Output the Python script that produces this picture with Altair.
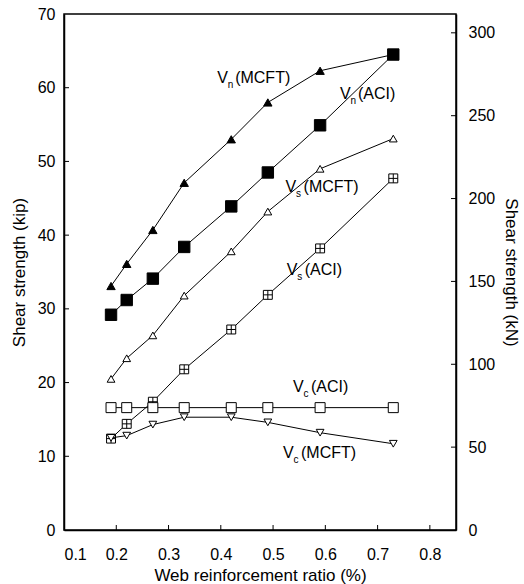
import altair as alt
import pandas as pd

# ---- data ----
ratio = [0.19, 0.22, 0.27, 0.33, 0.42, 0.49, 0.59, 0.73]
vn_mcft = [33.1, 36.1, 40.7, 47.1, 53.0, 58.0, 62.3, 64.5]
vn_aci = [29.2, 31.2, 34.1, 38.4, 43.9, 48.5, 54.9, 64.5]
vs_mcft = [20.5, 23.3, 26.4, 31.8, 37.8, 43.2, 49.0, 53.1]
vs_aci = [12.4, 14.4, 17.4, 21.8, 27.2, 31.9, 38.2, 47.7]
vc_aci = [16.6, 16.6, 16.6, 16.6, 16.6, 16.6, 16.6, 16.6]
vc_mcft = [12.5, 12.8, 14.3, 15.3, 15.3, 14.6, 13.2, 11.7]

KIP_TO_KN = 4.448

label_x = [0.393, 0.628, 0.524, 0.526, 0.538, 0.519]
label_y = [61.3, 59.2, 46.5, 35.3, 19.4, 10.4]
label_sub = ["n", "n", "s", "s", "c", "c"]
label_rest = ["(MCFT)", "(ACI)", "(MCFT)", "(ACI)", "(ACI)", "(MCFT)"]

x_ticks = [0.2, 0.3, 0.4, 0.5, 0.6, 0.7, 0.8]
kip_ticks = [10, 20, 30, 40, 50, 60]
kn_ticks = [50, 100, 150, 200, 250, 300]

W, H = 392, 516
FONT = "Liberation Sans"

xs = alt.Scale(domain=[0.1, 0.85], nice=False, zero=False)
ys = alt.Scale(domain=[0, 70], nice=False)
kns = alt.Scale(domain=[0, 70 * KIP_TO_KN], nice=False)

xaxis = alt.Axis(values=[0.1, 0.2, 0.3, 0.4, 0.5, 0.6, 0.7, 0.8], format=".1f",
                 ticks=False, labelPadding=16, title="Web reinforcement ratio (%)",
                 titlePadding=5, grid=False)
yaxis = alt.Axis(values=[0, 10, 20, 30, 40, 50, 60, 70], ticks=False, labelPadding=9,
                 title="Shear strength (kip)", titlePadding=9, grid=False)
kaxis = alt.Axis(orient="right", values=[0, 50, 100, 150, 200, 250, 300], ticks=False,
                 labelPadding=12, title="Shear strength (kN)", titlePadding=7, grid=False)

PLUSBOX = "M-1,-1L1,-1L1,1L-1,1Z M0,-1L0,1 M-1,0L1,0"

series = [
    ("Vn(MCFT)", vn_mcft, "triangle-up", "black", 70),
    ("Vn(ACI)", vn_aci, "square", "black", 130),
    ("Vs(MCFT)", vs_mcft, "triangle-up", "white", 60),
    ("Vs(ACI)", vs_aci, PLUSBOX, "white", 80),
    ("Vc(ACI)", vc_aci, "square", "white", 100),
    ("Vc(MCFT)", vc_mcft, "triangle-down", "white", 60),
]

rows = []
for name, vals, *_ in series:
    for r, v in zip(ratio, vals):
        rows.append({"series": name, "ratio": r, "kip": v})
df = pd.DataFrame(rows)


def X(field):
    return alt.X(field, scale=xs, axis=xaxis)


def Y(field):
    return alt.Y(field, scale=ys, axis=yaxis)


base = alt.Chart(df)
layers = []
for name, vals, shape, fill, size in series:
    sub = base.transform_filter(alt.datum.series == name)
    layers.append(sub.mark_line(color="black", strokeWidth=1)
                  .encode(x=X("ratio:Q"), y=Y("kip:Q")))
    layers.append(sub.mark_point(shape=shape, filled=False, fill=fill, fillOpacity=1,
                                 stroke="black", strokeWidth=1, size=size, opacity=1)
                  .encode(x=X("ratio:Q"), y=Y("kip:Q")))

lab = pd.DataFrame({"lx": label_x, "ly": label_y, "sub": label_sub, "rest": label_rest,
                    "v": ["V"] * 6})
lbase = alt.Chart(lab).encode(x=X("lx:Q"), y=Y("ly:Q"))
layers.append(lbase.mark_text(align="left", baseline="middle", font=FONT, fontSize=16,
                              color="black").encode(text="v:N"))
layers.append(lbase.mark_text(align="left", baseline="middle", font=FONT, fontSize=10,
                              dx=10.5, dy=7, color="black").encode(text="sub:N"))
layers.append(lbase.mark_text(align="left", baseline="middle", font=FONT, fontSize=16,
                              dx=18, color="black").encode(text="rest:N"))

# inward ticks
layers.append(alt.Chart(pd.DataFrame({"t": kip_ticks})).mark_rule(color="black", strokeWidth=1)
              .encode(y=Y("t:Q"), x=alt.value(0), x2=alt.value(5)))
layers.append(alt.Chart(pd.DataFrame({"t": x_ticks})).mark_rule(color="black", strokeWidth=1)
              .encode(x=X("t:Q"), y=alt.value(H), y2=alt.value(H - 5)))

left = alt.layer(*layers)

kn_df = pd.DataFrame({"ratio": ratio, "kn": [v * KIP_TO_KN for v in vn_aci]})
right = alt.layer(
    alt.Chart(kn_df).mark_point(opacity=0).encode(
        x=X("ratio:Q"), y=alt.Y("kn:Q", scale=kns, axis=kaxis)),
    alt.Chart(pd.DataFrame({"t": kn_ticks})).mark_rule(color="black", strokeWidth=1)
    .encode(y=alt.Y("t:Q", scale=kns, axis=kaxis), x=alt.value(W - 5), x2=alt.value(W)),
)

chart = (
    alt.layer(left, right)
    .resolve_scale(y="independent")
    .properties(width=W, height=H, autosize=alt.AutoSizeParams(type="none"),
                padding={"left": 64, "top": 14, "right": 68, "bottom": 54},
                background="white")
    .configure_view(stroke="black", strokeWidth=1.5)
    .configure_axis(domainColor="black", domainWidth=1.5, labelColor="black",
                    titleColor="black", labelFont=FONT, titleFont=FONT, labelFontSize=16,
                    titleFontSize=17, titleFontWeight="normal")
)

chart.save("out.html", embed_options={"renderer": "svg", "actions": False})
